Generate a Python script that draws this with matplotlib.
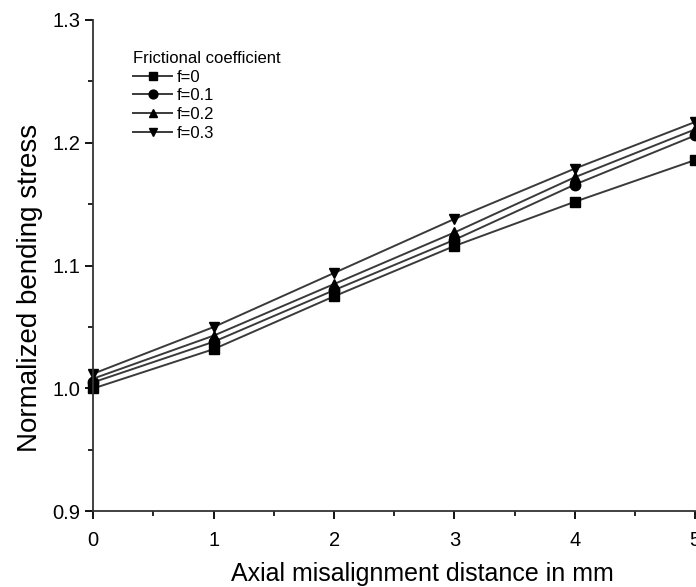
import numpy as np
import matplotlib
matplotlib.use('Agg')
from matplotlib import pyplot as plt
from matplotlib.ticker import MultipleLocator

plt.rcParams['font.family'] = ['Liberation Sans', 'DejaVu Sans']

# data
x = [0, 1, 2, 3, 4, 5]
f0 = [1.000, 1.032, 1.075, 1.116, 1.152, 1.186]
f01 = [1.005, 1.038, 1.080, 1.121, 1.166, 1.206]
f02 = [1.008, 1.043, 1.085, 1.127, 1.172, 1.211]
f03 = [1.012, 1.050, 1.094, 1.138, 1.179, 1.217]
labels = ['f=0', 'f=0.1', 'f=0.2', 'f=0.3']
markers = ['s', 'o', '^', 'v']

fig = plt.figure(figsize=(6.96, 5.87), dpi=100)
ax = fig.add_axes([0.134, 0.129, 0.865, 0.837])

for ys, lab, m in zip([f0, f01, f02, f03], labels, markers):
    ax.plot(x, ys, color='#3a3a3a', lw=1.4, marker=m, markersize=7.5,
            markerfacecolor='black', markeredgecolor='black', label=lab, clip_on=False)

ax.set_xlim(0, 5)
ax.set_ylim(0.9, 1.3)
ax.xaxis.set_major_locator(MultipleLocator(1))
ax.xaxis.set_minor_locator(MultipleLocator(0.5))
ax.yaxis.set_major_locator(MultipleLocator(0.1))
ax.yaxis.set_minor_locator(MultipleLocator(0.05))
ax.yaxis.set_major_formatter(matplotlib.ticker.FormatStrFormatter('%.1f'))
ax.spines['top'].set_visible(False)
ax.spines['right'].set_visible(False)
for s in ['left', 'bottom']:
    ax.spines[s].set_linewidth(1.3)
    ax.spines[s].set_color('#333333')
ax.tick_params(which='major', length=6, width=1.3, labelsize=14.5, direction='out')
ax.tick_params(axis='x', which='major', pad=8)
ax.tick_params(which='minor', length=3.5, width=1.2, direction='out')

ax.set_xlabel('Axial misalignment distance in mm', fontsize=18)
ax.xaxis.set_label_coords(0.547, -0.103)
ax.set_ylabel('Normalized bending stress', fontsize=20)
ax.yaxis.set_label_coords(-0.083, 0.455)

leg = ax.legend(title='Frictional coefficient', loc='upper left', bbox_to_anchor=(0.066, 0.937),
                frameon=False, fontsize=12, title_fontsize=12, handlelength=2.35,
                labelspacing=0.22, handletextpad=0.3, borderaxespad=0, borderpad=0,
                markerscale=0.85)
leg._legend_box.align = 'left'

plt.savefig('out.png', dpi=100)
